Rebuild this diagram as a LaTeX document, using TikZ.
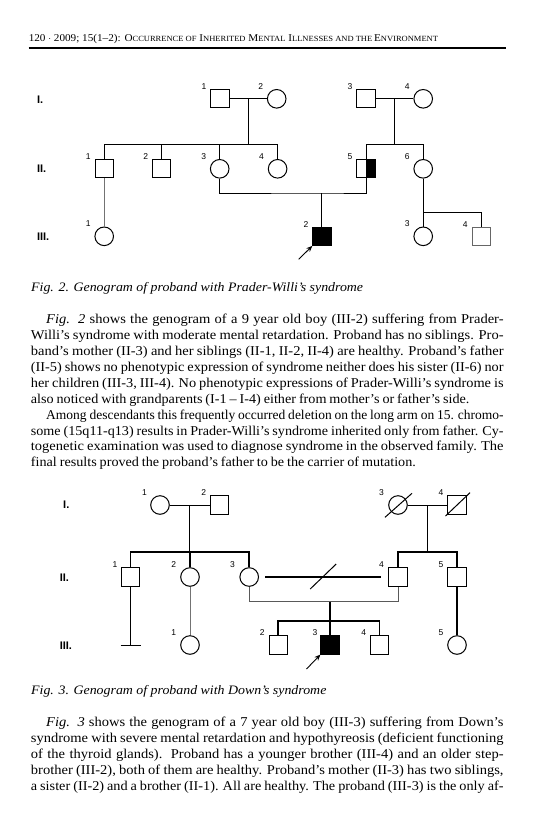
\documentclass[tikz,border=0pt]{standalone}
\usepackage{fontspec}
\usepackage{graphicx}
\setmainfont[FakeStretch=1.076]{Liberation Serif}
\newfontfamily\labfont{Liberation Sans}
\usetikzlibrary{calc,arrows.meta}
\newcommand\sck[1]{{\fontsize{7.9}{9}\selectfont #1}}
\newcommand\bodyfont{\fontsize{13.5}{16}\selectfont}
\newlength\jlw
\newcommand\jline[2]{{\spaceskip 3pt plus 12pt\relax\settowidth\jlw{#2}%
 \ifdim\jlw>#1\relax\scalebox{\fpeval{(#1)/(\jlw)}}[1]{#2}\else\makebox[#1][s]{#2}\fi}}
\begin{document}
\begin{tikzpicture}[x=1pt,y=-1pt,
  sq/.style={draw,line width=1pt,minimum size=18.2pt,inner sep=0pt,rectangle},
  ci/.style={draw,line width=1pt,minimum size=18.6pt,inner sep=0pt,circle},
  ln/.style={line width=1pt},
  tk/.style={line width=1.7pt},
  gl/.style={line width=1pt,draw=black!55},
  num/.style={font=\labfont\fontsize{8.5}{9}\selectfont,inner sep=0pt},
  gen/.style={font=\labfont\bfseries\fontsize{11}{12}\selectfont,inner sep=0pt,anchor=west},
  body/.style={inner sep=0pt,anchor=base west,font=\bodyfont},
  figcap/.style={inner sep=0pt,anchor=base west,font=\itshape\fontsize{12.9}{14}\selectfont},
  pro/.style={-{Stealth[length=6pt,width=5pt]},line width=0.9pt}
]
\useasboundingbox[fill=white] (0,0) rectangle (534,828);
\newcommand\lab[3][-16]{\node[num] (l#2) at ($(#2.north)+(#1,-2.5)$) {#3};}
% ---------- header ----------
\node[inner sep=0pt,anchor=base west,font=\fontsize{10.4}{12}\selectfont] (hdr) at (28.6,41)
 {120 $\cdot$ 2009; 15(1--2): O\sck{CCURRENCE OF} I\sck{NHERITED} M\sck{ENTAL} I\sck{LLNESSES AND THE}\,E\sck{NVIRONMENT}};
\coordinate (rl) at (28.6,48);
\coordinate (rr) at (505.8,48);
\draw[line width=2pt] (rl) -- (rr);
% ---------- Fig 2 ----------
\node[gen] (g1) at (36.8,99.5) {I.};
\node[gen] (g2) at (36.8,168.5) {II.};
\node[gen] (g3) at (36.8,236.5) {III.};
\node[sq] (a11) at (220,98.8) {};
\node[ci] (a12) at (276.7,98.8) {};
\node[sq] (a13) at (366,98.8) {};
\node[ci] (a14) at (423.2,98.8) {};
\node[sq] (a21) at (104.2,168.8) {};
\node[sq] (a22) at (161.8,168.8) {};
\node[ci] (a23) at (219.7,168.8) {};
\node[ci] (a24) at (277.6,168.8) {};
\node[sq] (a25) at (366,168.8) {};
\fill (a25.north) rectangle (a25.south east);
\node[sq] at (a25) {};
\node[ci] (a26) at (423.2,168.8) {};
\node[ci] (a31) at (104.2,236.3) {};
\node[sq,fill=black] (a32) at (321.9,236.3) {};
\node[ci] (a33) at (423.2,236.3) {};
\node[sq,draw=black!60] (a34) at (481.2,236.3) {};
\lab{a11}{1}\lab{a12}{2}\lab{a13}{3}\lab{a14}{4}
\lab{a21}{1}\lab{a22}{2}\lab{a23}{3}\lab{a24}{4}\lab{a25}{5}\lab{a26}{6}
\lab{a31}{1}\lab{a32}{2}\lab{a33}{3}\lab{a34}{4}
\draw[ln] (a11.east) -- (a12.west);
\draw[ln] (a13.east) -- (a14.west);
\coordinate (m1) at ($(a11.east)!0.5!(a12.west)$);
\coordinate (m2) at ($(a13.east)!0.5!(a14.west)$);
\coordinate (s1) at ($(m1)+(0,45.2)$);
\coordinate (s2) at ($(m2)+(0,45.2)$);
\draw[ln] (m1) -- (s1);
\draw[ln] (m2) -- (s2);
\draw[ln] (a21.north) -- (a21.north |- s1) -| (a24.north);
\draw[ln] (a22.north) -- (a22.north |- s1);
\draw[ln] (a23.north) -- (a23.north |- s1);
\draw[ln] (a25.north) -- (a25.north |- s2) -| (a26.north);
\coordinate (c1) at (321.9,193);
\draw[ln] (a23.south) |- (c1) -| (a25.south);
\draw[ln] (c1) -- (a32.north);
\draw[gl] (a21.south) -- (a31.north);
\draw[ln] (a26.south) -- (a33.north);
\coordinate (b1) at (423.2,212);
\draw[ln] (b1) -| (a34.north);
\coordinate (ar1) at (298.7,259.3);
\draw[pro] (ar1) -- (a32.south west);
\node[figcap] (cap2) at (31,291.7) {Fig. 2. Genogram of proband with Prader-Willi's syndrome};
% ---------- text 1 ----------
\node[body] (p1) at (46,323.7) {\jline{457.4pt}{\textit{Fig. 2} shows the genogram of a 9 year old boy (III-2) suffering from Prader-}};
\node[body] (p2) at (30.7,339.6) {\jline{472.7pt}{Willi's syndrome with moderate mental retardation. Proband has no siblings. Pro-}};
\node[body] (p3) at (30.7,355.5) {\jline{472.7pt}{band’s mother (II-3) and her siblings (II-1, II-2, II-4) are healthy. Proband’s father}};
\node[body] (p4) at (30.7,371.4) {\jline{472.7pt}{(II-5) shows no phenotypic expression of syndrome neither does his sister (II-6) nor}};
\node[body] (p5) at (30.7,387.3) {\jline{472.7pt}{her children (III-3, III-4). No phenotypic expressions of Prader-Willi’s syndrome is}};
\node[body] (p6) at (30.7,403.2) {\jline{438.6pt}{also noticed with grandparents (I-1 -- I-4) either from mother’s or father’s side.}};
\node[body] (p7) at (46,419.1) {\jline{457.4pt}{Among descendants this frequently occurred deletion on the long arm on 15. chromo-}};
\node[body] (p8) at (30.7,435.0) {\jline{472.7pt}{some (15q11-q13) results in Prader-Willi’s syndrome inherited only from father. Cy-}};
\node[body] (p9) at (30.7,450.9) {\jline{472.7pt}{togenetic examination was used to diagnose syndrome in the observed family. The}};
\node[body] (p10) at (30.7,466.8) {\jline{385pt}{final results proved the proband’s father to be the carrier of mutation.}};
% ---------- Fig 3 ----------
\node[gen] (h1) at (63,505) {I.};
\node[gen] (h2) at (59.6,578) {II.};
\node[gen] (h3) at (59.6,646) {III.};
\node[ci] (b11) at (160,505) {};
\node[sq] (b12) at (219.2,505) {};
\node[ci] (b13) at (398,505) {};
\node[sq] (b14) at (457,505) {};
\draw[ln] ($(b13)+(-13,12.3)$) -- ($(b13)+(14,-11.7)$);
\draw[ln] ($(b14)+(-11.5,11)$) -- ($(b14)+(13,-12.3)$);
\node[sq] (b21) at (130.6,577) {};
\node[ci] (b22) at (190,577) {};
\node[ci] (b23) at (249.2,577) {};
\node[sq] (b24) at (398,577) {};
\node[sq] (b25) at (457,577) {};
\node[ci] (b31) at (190,645) {};
\node[sq] (b32) at (278.1,645) {};
\node[sq,fill=black] (b33) at (330,645) {};
\node[sq] (b34) at (379.4,645) {};
\node[ci] (b35) at (457,645) {};
\lab[-15.5]{b11}{1}\lab[-15.5]{b12}{2}\lab[-16.5]{b13}{3}\lab[-16]{b14}{4}
\lab[-15.5]{b21}{1}\lab[-16.3]{b22}{2}\lab[-16.6]{b23}{3}\lab[-16.5]{b24}{4}\lab{b25}{5}
\lab[-16.3]{b31}{1}\lab[-15.8]{b32}{2}\lab[-15]{b33}{3}\lab[-15.6]{b34}{4}\lab{b35}{5}
\draw[ln] (b11.east) -- (b12.west);
\draw[ln] (b13.east) -- (b14.west);
\coordinate (n1) at ($(b11.east)!0.5!(b12.west)$);
\coordinate (n2) at ($(b13.east)!0.5!(b14.west)$);
\coordinate (t1) at ($(n1)+(0,46.7)$);
\coordinate (t2) at ($(n2)+(0,46.7)$);
\draw[ln] (n1) -- (t1);
\draw[ln] (n2) -- (t2);
\draw[tk] (b21.north) -- (b21.north |- t1) -| (b23.north);
\draw[tk] (b22.north) -- (b22.north |- t1);
\draw[tk] (b24.north) -- (b24.north |- t2) -| (b25.north);
\coordinate (dv) at ($(b23.east)!0.5!(b24.west)$);
\draw[tk] ($(b23.east)+(6,0)$) -- ($(b24.west)+(-7.2,0)$);
\draw[ln] ($(dv)+(-13.5,12)$) -- ($(dv)+(12.5,-13)$);
\coordinate (c2) at (329.8,601.7);
\draw[ln,draw=black!65] (b23.south) |- (c2) -| (b24.south);
\coordinate (s3) at (329.8,620.7);
\draw[tk] (c2) -- (s3);
\draw[tk] (b32.north) -- (b32.north |- s3) -| (b34.north);
\draw[tk] (b33.north) -- (b33.north |- s3);
\coordinate (e1) at (130.6,645.7);
\draw[line width=1.3pt] (b21.south) -- (e1);
\draw[line width=1.3pt] ($(e1)+(-10,0)$) -- ($(e1)+(10,0)$);
\draw[gl] (b22.south) -- (b31.north);
\draw[tk] (b25.south) -- (b35.north);
\coordinate (ar2) at (306.5,669);
\draw[pro] (ar2) -- (b33.south west);
\node[figcap] (cap3) at (31,694) {Fig. 3. Genogram of proband with Down's syndrome};
% ---------- text 2 ----------
\node[body] (q1) at (46,726.7) {\jline{457.4pt}{\textit{Fig. 3} shows the genogram of a 7 year old boy (III-3) suffering from Down’s}};
\node[body] (q2) at (30.7,742.5) {\jline{472.7pt}{syndrome with severe mental retardation and hypothyreosis (deficient functioning}};
\node[body] (q3) at (30.7,758.4) {\jline{472.7pt}{of the thyroid glands). Proband has a younger brother (III-4) and an older step-}};
\node[body] (q4) at (30.7,774.2) {\jline{472.7pt}{brother (III-2), both of them are healthy. Proband’s mother (II-3) has two siblings,}};
\node[body] (q5) at (30.7,790.0) {\jline{472.7pt}{a sister (II-2) and a brother (II-1). All are healthy. The proband (III-3) is the only af-}};
\end{tikzpicture}
\end{document}
